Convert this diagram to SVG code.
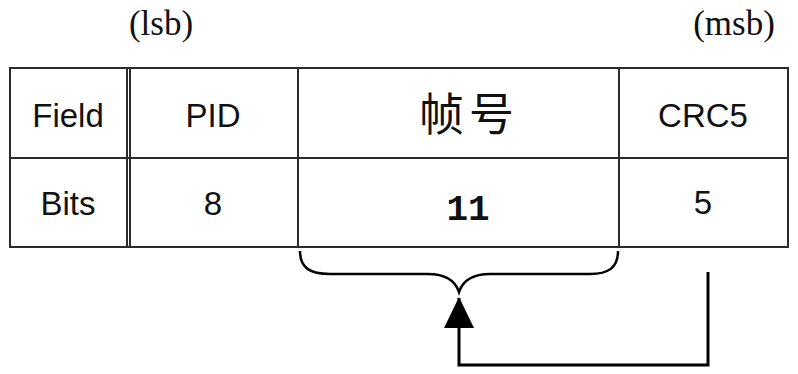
<svg xmlns="http://www.w3.org/2000/svg" width="798" height="374" viewBox="0 0 798 374">
<style>
.grid{fill:none;stroke:#2b2b2b;stroke-width:2}
.sans{font-family:"Liberation Sans",Arial,sans-serif;font-size:33px;fill:#111;text-anchor:middle}
.serif{font-family:"Liberation Serif","Times New Roman",serif;font-size:35px;fill:#111;text-anchor:middle}
.cjk{font-family:"Noto Sans CJK SC","Noto Sans",sans-serif;font-size:45px;fill:#111;text-anchor:middle;letter-spacing:5px}
.mono{font-family:"Liberation Mono","Courier New",monospace;font-size:36px;font-weight:bold;fill:#111;text-anchor:middle}
.conn{fill:none;stroke:#000;stroke-width:3}
.brace{fill:none;stroke:#000;stroke-width:2.5}
</style>
<defs>
<marker id="arrow" markerUnits="userSpaceOnUse" markerWidth="31" markerHeight="30" viewBox="0 0 31 30" refX="30" refY="15" orient="auto">
<path d="M0,0 L31,15 L0,30 z" fill="#000"/>
</marker>
</defs>
<rect width="798" height="374" fill="#fff"/>
<g id="labels">
<text class="serif" x="161" y="35">(lsb)</text>
<text class="serif" x="734" y="35">(msb)</text>
</g>
<g id="table">
<rect class="grid" x="10" y="68" width="778" height="179"/>
<line class="grid" x1="10" y1="158" x2="788" y2="158"/>
<line class="grid" x1="127" y1="68" x2="127" y2="247"/>
<line class="grid" x1="130" y1="68" x2="130" y2="247"/>
<line class="grid" x1="298" y1="68" x2="298" y2="247"/>
<line class="grid" x1="619" y1="68" x2="619" y2="247"/>
</g>
<g id="col-header">
<text class="sans" x="68" y="127">Field</text>
<text class="sans" x="68" y="215">Bits</text>
</g>
<g id="col-pid">
<text class="sans" x="213" y="127">PID</text>
<text class="sans" x="213" y="215">8</text>
</g>
<g id="col-frame">
<text class="cjk" x="469" y="131">帧号</text>
<text class="mono" x="468" y="220">11</text>
</g>
<g id="col-crc">
<text class="sans" x="703" y="127">CRC5</text>
<text class="sans" x="703" y="214">5</text>
</g>
<g id="brace">
<path class="brace" d="M300,251 C300,268 310,274 330,274 L428,274 C445,274 455,280 459,292 C463,280 473,274 490,274 L590,274 C608,274 618,268 618,251"/>
</g>
<g id="connectors">
<path class="conn" d="M708,272 V365 H459 V298" marker-end="url(#arrow)"/>
</g>
</svg>
